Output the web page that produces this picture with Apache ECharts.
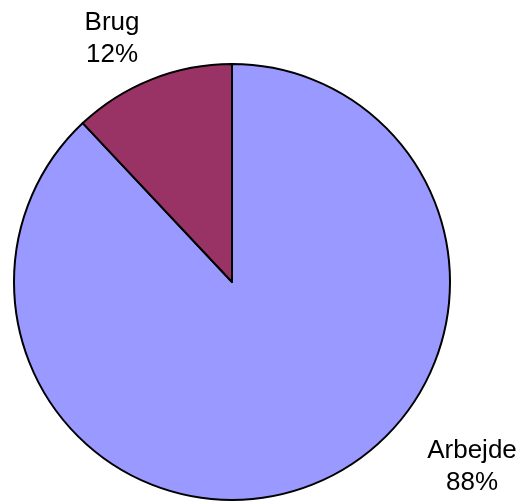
<!DOCTYPE html>
<html>
<head>
<meta charset="utf-8">
<script src="https://cdn.jsdelivr.net/npm/echarts@6/dist/echarts.min.js"></script>
<style>
html,body{margin:0;padding:0;background:#fff;}
#c{width:523px;height:501px;}
</style>
</head>
<body>
<div id="c"></div>
<script>
var categories = ['Arbejde', 'Brug'];
var values = [88, 12];
var colors = ['#9999FF', '#993366'];

var labelPos = {
  Arbejde: [472, 467],
  Brug: [112, 39]
};

var chart = echarts.init(document.getElementById('c'), null, {renderer: 'canvas'});
chart.setOption({
  backgroundColor: '#ffffff',
  animation: false,
  series: [{
    type: 'pie',
    center: [232, 282],
    radius: 218,
    startAngle: 90,
    clockwise: true,
    data: categories.map(function (n, i) {
      return {name: n, value: values[i], itemStyle: {color: colors[i]}};
    }),
    itemStyle: {borderColor: '#000000', borderWidth: 2},
    label: {
      show: true,
      position: 'outside',
      formatter: '{b}\n{c}%',
      color: '#000000',
      fontFamily: 'Liberation Sans, Arial, sans-serif',
      fontSize: 26,
      lineHeight: 32,
      align: 'center'
    },
    labelLine: {show: false},
    labelLayout: function (p) {
      var pos = labelPos[categories[p.dataIndex]];
      return {x: pos[0], y: pos[1], align: 'center', verticalAlign: 'middle'};
    },
    emphasis: {disabled: true}
  }]
});
</script>
</body>
</html>
